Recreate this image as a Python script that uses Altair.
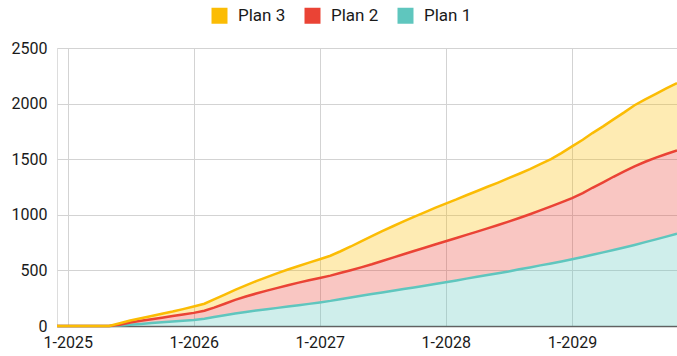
import altair as alt
import pandas as pd

# Monthly points, Dec 2024 .. Nov 2029
months = pd.date_range("2024-12-01", periods=60, freq="MS").strftime("%Y-%m-%dT00:00:00").tolist()

plan1 = [0, 0, 0, 0, 0, 0, 5, 12, 19, 26, 33, 40, 47, 54, 65, 80, 96, 112, 126, 139,
         151, 163, 175, 187, 199, 212, 226, 241, 257, 272, 287, 302, 317, 332, 347, 362, 378, 394, 410, 426,
         442, 458, 474, 490, 510, 527, 545, 562, 580, 600, 620, 641, 662, 684, 706, 729, 754, 779, 804, 829]
plan2 = [0, 0, 0, 0, 0, 0, 7, 20, 28, 35, 42, 49, 56, 64, 72, 85, 104, 123, 139, 153,
         167, 180, 192, 203, 212, 220, 227, 235, 244, 255, 268, 283, 298, 313, 328, 342, 355, 368, 381, 394,
         407, 420, 434, 449, 461, 478, 495, 514, 532, 550, 575, 602, 630, 658, 684, 706, 723, 735, 743, 749]
plan3 = [0, 0, 0, 0, 0, 0, 13, 18, 23, 29, 35, 41, 49, 57, 63, 75, 83, 90, 100, 111,
         122, 132, 141, 150, 159, 168, 179, 194, 214, 235, 253, 268, 282, 295, 307, 318, 329, 338, 347, 356,
         365, 374, 382, 390, 398, 406, 415, 424, 443, 465, 480, 492, 503, 516, 531, 550, 561, 574, 590, 607]

series_names = ["Plan 1", "Plan 2", "Plan 3"]
series_values = [plan1, plan2, plan3]
colors = {"Plan 3": "#FBBC04", "Plan 2": "#EA4335", "Plan 1": "#5FC6BE"}
legend_order = ["Plan 3", "Plan 2", "Plan 1"]
year_ticks = [2025, 2026, 2027, 2028, 2029]

rows = []
base = [0] * len(months)
for name, vals in zip(series_names, series_values):
    for i, m in enumerate(months):
        rows.append({"month": m, "plan": name, "value": vals[i],
                     "y0": base[i], "y1": base[i] + vals[i]})
    base = [b + v for b, v in zip(base, vals)]
df = pd.DataFrame(rows)

FONT = "Roboto"
TEXT = "#1a1a1a"

x_enc = alt.X(
    "month:T",
    scale=alt.Scale(domain=[alt.DateTime(year=2024, month=12, date=1),
                            alt.DateTime(year=2029, month=11, date=1)], nice=False),
    axis=alt.Axis(
        title=None, format="%-m-%Y",
        values=[alt.DateTime(year=y, month=1, date=1) for y in year_ticks],
        grid=True, gridColor="#d3d3d3", ticks=False,
        domain=True, domainColor="#616161", domainWidth=1.5,
        labelFont=FONT, labelFontSize=16, labelColor=TEXT, labelPadding=8,
        labelFlush=False,
    ),
)
y_scale = alt.Scale(domain=[0, 2500], nice=False)
y_axis = alt.Axis(
    title=None, values=[0, 500, 1000, 1500, 2000, 2500], format="d",
    grid=True, gridColor="#d3d3d3", ticks=False, domain=False,
    labelFont=FONT, labelFontSize=16, labelColor=TEXT, labelPadding=10,
)
color_scale = alt.Scale(domain=legend_order, range=[colors[k] for k in legend_order])

areas = alt.Chart(df).mark_area(opacity=0.3, interpolate="linear").encode(
    x=x_enc,
    y=alt.Y("y1:Q", scale=y_scale, axis=y_axis),
    y2="y0:Q",
    color=alt.Color(
        "plan:N", scale=color_scale,
        legend=alt.Legend(
            title=None, orient="none", legendX=154, legendY=-41, direction="horizontal",
            symbolType="square", symbolSize=256, symbolOpacity=1, symbolStrokeWidth=0,
            labelFont=FONT, labelFontSize=17, labelColor=TEXT, labelOffset=10,
            columnPadding=18,
        ),
    ),
)

lines = []
for name in series_names:
    lines.append(
        alt.Chart(df).transform_filter(alt.datum.plan == name).mark_line(
            strokeWidth=2.5, interpolate="linear", color=colors[name]
        ).encode(
            x=x_enc,
            y=alt.Y("y1:Q", scale=y_scale, axis=y_axis),
        )
    )

chart = alt.layer(areas, *lines).properties(
    width=620, height=278,
    autosize=alt.AutoSizeParams(type="none"),
    padding={"left": 57, "top": 48, "right": 0, "bottom": 30},
).configure_view(stroke=None).configure(background="white")

chart.save("out.html", embed_options={"renderer": "svg", "actions": False})
